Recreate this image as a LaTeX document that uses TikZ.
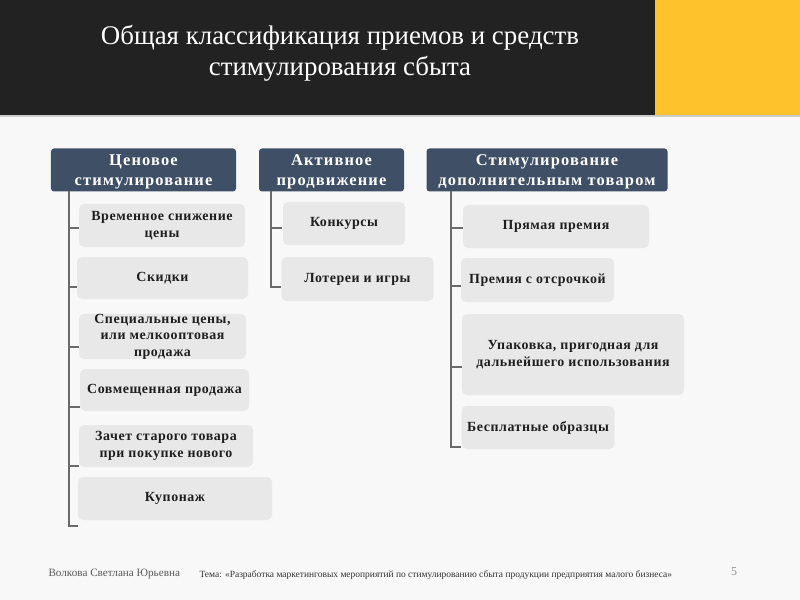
\documentclass[tikz,border=0pt]{standalone}
\usepackage{fontspec}
\setmainfont{Liberation Serif}
\definecolor{bgc}{HTML}{F8F8F8}
\definecolor{topdark}{HTML}{222222}
\definecolor{topyel}{HTML}{FDC22C}
\definecolor{hdrblue}{HTML}{3F4F66}
\definecolor{itemgray}{HTML}{E8E8E8}
\definecolor{linegray}{HTML}{6A6A6A}
\definecolor{txtdark}{HTML}{1E1E1E}
\begin{document}
\begin{tikzpicture}[x=1bp,y=-1bp,
  hdr/.style={fill=hdrblue, rounded corners=3bp, text=white, align=center, inner sep=0pt,
    font=\bfseries\addfontfeature{LetterSpace=7}\fontsize{16.5}{20.5}\selectfont},
  item/.style={fill=itemgray, rounded corners=5bp, text=txtdark, align=center, inner sep=0pt,
    font=\bfseries\addfontfeature{LetterSpace=4}\fontsize{14}{17}\selectfont},
  conn/.style={draw=linegray, line width=1.4bp}]
\useasboundingbox (0,0) rectangle (800,600);
\fill[bgc] (0,0) rectangle (800,600);
\fill[topdark] (0,0) rectangle (655,115);
\fill[topyel] (655,0) rectangle (800,115);
\fill[gray!40] (0,115) rectangle (800,117);
\node[text=white, align=center, font=\fontsize{27}{31}\selectfont] (title) at (340,53)
  {Общая классификация приемов и средств\\стимулирования сбыта};

% headers
\node[hdr, minimum width=185bp, minimum height=43bp] (h1) at (143.5,170) {\strut Ценовое\\стимулирование};
\node[hdr, minimum width=145bp, minimum height=43bp] (h2) at (331.5,170) {\strut Активное\\продвижение};
\node[hdr, minimum width=241bp, minimum height=43bp] (h3) at (547,170) {\strut Стимулирование\\дополнительным товаром};

% column 1
\node[item, minimum width=166bp, minimum height=43bp] (a1) at (162,225.5) {Временное снижение\\цены};
\node[item, minimum width=171bp, minimum height=42bp] (a2) at (162.5,278) {Скидки};
\node[item, minimum width=167bp, minimum height=43bp, font=\bfseries\addfontfeature{LetterSpace=4}\fontsize{14}{16.5}\selectfont] (a3) at (162.5,336.5) {Специальные цены,\\или мелкооптовая\\продажа};
\node[item, minimum width=169bp, minimum height=42bp] (a4) at (164.5,390) {Совмещенная продажа};
\node[item, minimum width=174bp, minimum height=42bp] (a5) at (166,446) {Зачет старого товара\\при покупке нового};
\node[item, minimum width=194bp, minimum height=43bp] (a6) at (175,498.5) {Купонаж};

% column 2
\node[item, minimum width=122bp, minimum height=43bp] (b1) at (344,223.5) {Конкурсы};
\node[item, minimum width=152bp, minimum height=44bp] (b2) at (357.5,279) {Лотереи и игры};

% column 3
\node[item, minimum width=186bp, minimum height=43bp] (c1) at (556,226.5) {Прямая премия};
\node[item, minimum width=153bp, minimum height=44bp] (c2) at (537.5,280) {Премия с отсрочкой};
\node[item, minimum width=222bp, minimum height=81bp] (c3) at (573,354.5) {Упаковка, пригодная для\\дальнейшего использования};
\node[item, minimum width=153bp, minimum height=43bp] (c4) at (538,427.5) {Бесплатные образцы};

% connectors
\coordinate (v1) at (69,191);
\coordinate (v2) at (271,191);
\coordinate (v3) at (451,191);
\draw[conn] (v1) |- ([yshift=-2.5bp]a1.west);
\draw[conn] (v1) |- ([yshift=-9bp]a2.west);
\draw[conn] (v1) |- ([yshift=-10.5bp]a3.west);
\draw[conn] (v1) |- ([yshift=-17bp]a4.west);
\draw[conn] (v1) |- ([yshift=-20bp]a5.west);
\draw[conn] (v1) |- ([yshift=-27.5bp]a6.west);
\draw[conn] (v2) |- ([yshift=-4.5bp,xshift=-1bp]b1.west);
\draw[conn] (v2) |- ([yshift=-8bp]b2.west);
\draw[conn] (v3) |- ([yshift=-1.5bp]c1.west);
\draw[conn] (v3) |- ([yshift=-6bp]c2.west);
\draw[conn] (v3) |- ([yshift=-12.5bp]c3.west);
\draw[conn] (v3) |- ([yshift=-19.5bp]c4.west);

% footer
\node[anchor=west, text=black!65, font=\fontsize{11.2}{13}\selectfont] (author) at (45,574) {Волкова Светлана Юрьевна};
\node[anchor=west, text=black!80, font=\fontsize{9.5}{10}\selectfont] (theme) at (196,575) {Тема: «Разработка маркетинговых мероприятий по стимулированию сбыта продукции предприятия малого бизнеса»};
\node[text=black!45, font=\fontsize{12}{14}\selectfont] (pg) at (734,572) {5};
\end{tikzpicture}
\end{document}
